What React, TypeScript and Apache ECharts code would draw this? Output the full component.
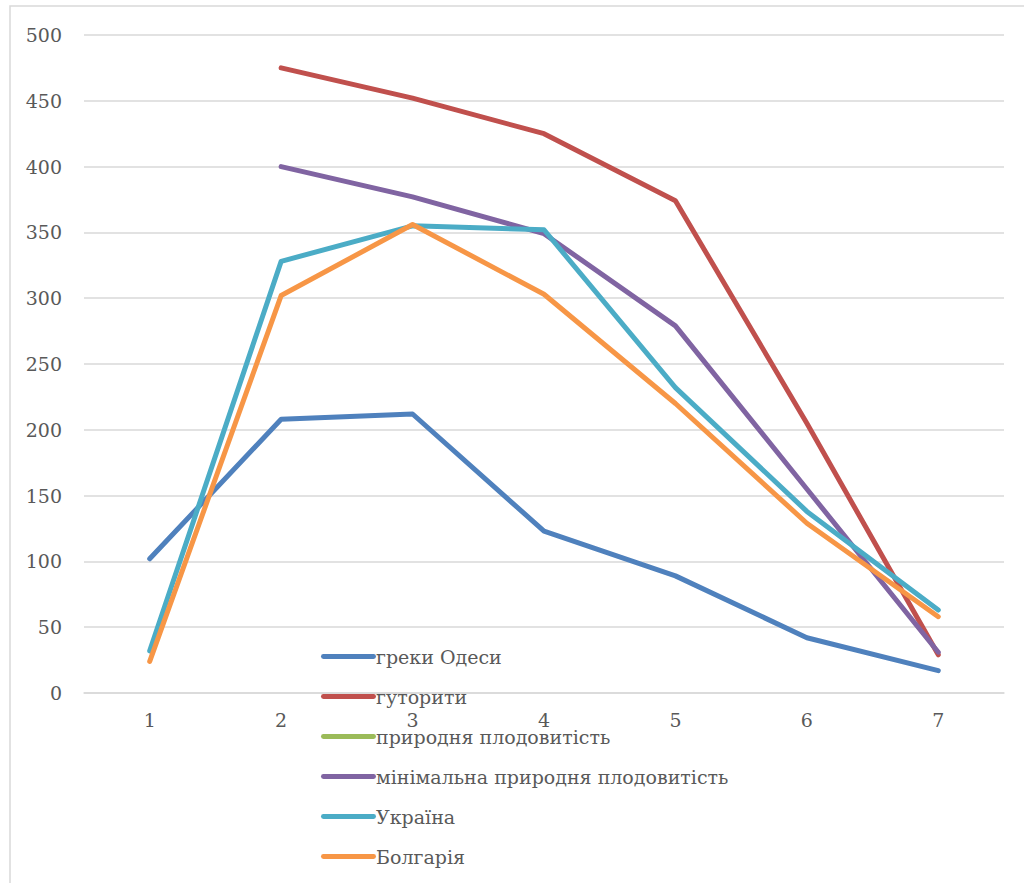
import React, { useEffect, useRef } from "react";
import * as echarts from "echarts";

const categories = ["1", "2", "3", "4", "5", "6", "7"];
const seriesNames = [
  "греки Одеси",
  "гуторити",
  "природня плодовитість",
  "мінімальна природня плодовитість",
  "Україна",
  "Болгарія",
];
const grekyOdesy = [102, 208, 212, 123, 89, 42, 17];
const gutoryty = [null, 475, 452, 425, 374, 205, 29];
const pryrodnia = [null, null, null, null, null, null, null];
const minimalna = [null, 400, 377, 349, 279, 155, 31];
const ukraina = [32, 328, 355, 352, 232, 138, 63];
const bolgariia = [24, 302, 356, 303, 220, 129, 58];
const colors = ["#4F81BD", "#C0504D", "#9BBB59", "#8064A2", "#4BACC6", "#F79646"];

export default function App() {
  const ref = useRef<HTMLDivElement>(null);
  useEffect(() => {
    const chart = echarts.init(ref.current!, null, { renderer: "svg" });
    const data = [grekyOdesy, gutoryty, pryrodnia, minimalna, ukraina, bolgariia];
    const font = "DejaVu Serif";
    chart.setOption({
      animation: false,
      color: colors,
      textStyle: { fontFamily: font },
      graphic: [
        {
          type: "rect",
          shape: { x: 10, y: 6, width: 1030, height: 900 },
          style: { fill: "none", stroke: "#d9d9d9", lineWidth: 1.5 },
          z: -1,
        },
      ],
      grid: { left: 84, right: 20, top: 35, bottom: 190 },
      xAxis: {
        type: "category",
        data: categories,
        boundaryGap: true,
        axisLine: { show: true, lineStyle: { color: "#d9d9d9", width: 1.5 } },
        axisTick: { show: false },
        axisLabel: { color: "#595959", fontSize: 19, fontFamily: font, margin: 17 },
      },
      yAxis: {
        type: "value",
        min: 0,
        max: 500,
        interval: 50,
        axisLine: { show: false },
        axisTick: { show: false },
        splitLine: { lineStyle: { color: "#d9d9d9", width: 1.5 } },
        axisLabel: { color: "#595959", fontSize: 19, fontFamily: font, margin: 22 },
      },
      legend: {
        orient: "vertical",
        left: 316,
        top: 642,
        itemGap: 21,
        itemWidth: 55,
        itemHeight: 22,
        icon: "path://M2,9 L53,9 A2.5,2.5 0 0 1 53,14 L2,14 A2.5,2.5 0 0 1 2,9 Z",
        textStyle: { color: "#595959", fontSize: 19, fontFamily: font, padding: [4, 0, 0, -5] },
        data: seriesNames,
      },
      series: seriesNames.map((name, i) => ({
        name,
        type: "line",
        data: data[i],
        symbol: "none",
        connectNulls: false,
        lineStyle: { width: 5, color: colors[i], cap: "round", join: "round" },
        itemStyle: { color: colors[i] },
      })),
    });
    return () => chart.dispose();
  }, []);
  return <div ref={ref} style={{ width: 1024, height: 883, position: "absolute", left: 0, top: 0 }} />;
}
